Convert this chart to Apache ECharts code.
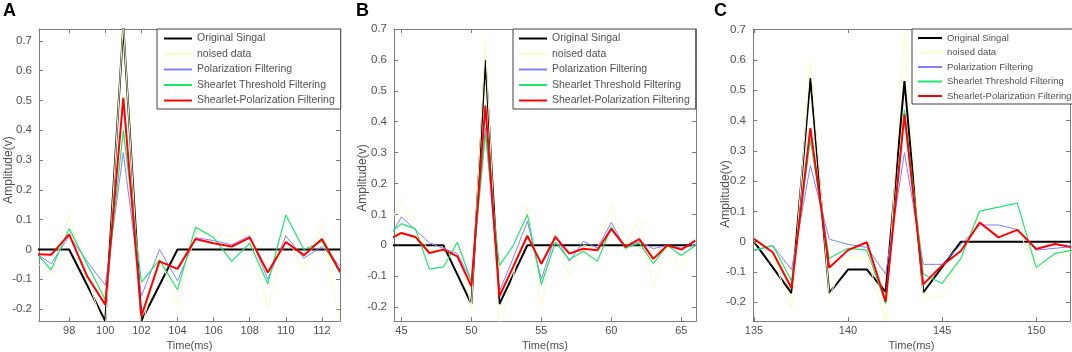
<!DOCTYPE html>
<html>
<head>
<meta charset="utf-8">
<script src="https://cdn.jsdelivr.net/npm/echarts@6/dist/echarts.min.js"></script>
<style>
html,body{margin:0;padding:0;background:#fff;}
#main{width:1072px;height:352px;}
</style>
</head>
<body>
<div id="main"></div>
<script>
// series names (legend text kept as in the figure)
var names = ['Original Singal', 'noised data', 'Polarization Filtering', 'Shearlet Threshold Filtering', 'Shearlet-Polarization Filtering'];

// panel A
var timeA  = [96, 97, 98, 99, 100, 101, 102, 103, 104, 105, 106, 107, 108, 109, 110, 111, 112, 113];
var origA  = [0, 0, 0, -0.12, -0.24, 0.75, -0.24, -0.12, 0, 0, 0, 0, 0, 0, 0, 0, 0, 0];
var noiseA = [-0.03, -0.09, 0.12, -0.1, -0.27, 0.76, -0.27, -0.02, -0.19, 0.06, 0.05, 0.04, 0.07, -0.2, 0.05, -0.07, 0.09, -0.26];
var polA   = [-0.006, -0.048, 0.045, -0.04, -0.12, 0.325, -0.157, 0, -0.105, 0.04, 0.03, 0.016, 0.046, -0.1, 0.046, -0.029, 0.01, -0.055];
var shearA = [0, -0.068, 0.07, -0.05, -0.168, 0.40, -0.11, -0.035, -0.135, 0.075, 0.04, -0.04, 0.021, -0.115, 0.116, 0, 0.027, -0.08];
var spfA   = [-0.015, -0.018, 0.051, -0.09, -0.185, 0.509, -0.224, -0.04, -0.065, 0.035, 0.021, 0.01, 0.04, -0.077, 0.025, -0.019, 0.035, -0.074];
var xTicksA = [98, 100, 102, 104, 106, 108, 110, 112];
var yTicksA = [-0.2, -0.1, 0, 0.1, 0.2, 0.3, 0.4, 0.5, 0.6, 0.7];

// panel B
var timeB  = [44, 45, 46, 47, 48, 49, 50, 51, 52, 53, 54, 55, 56, 57, 58, 59, 60, 61, 62, 63, 64, 65, 66];
var origB  = [0, 0, 0, 0, 0, -0.095, -0.19, 0.6, -0.19, -0.095, 0, 0, 0, 0, 0, 0, 0, 0, 0, 0, 0, 0, 0];
var noiseB = [0.05, 0.15, 0.05, -0.02, -0.01, 0.0, -0.2, 0.66, -0.27, -0.1, 0.13, -0.2, 0.05, -0.1, 0.0, -0.01, 0.13, -0.01, 0.09, -0.14, 0.0, -0.08, 0.02];
var polB   = [0.013, 0.092, 0.05, 0.008, -0.01, -0.027, -0.117, 0.38, -0.149, -0.04, 0.078, -0.11, 0.031, -0.052, 0.013, -0.009, 0.074, -0.009, 0.013, -0.011, 0, -0.009, 0];
var shearB = [0.032, 0.07, 0.053, -0.077, -0.07, 0.01, -0.117, 0.36, -0.066, 0.0, 0.1, -0.127, 0.01, -0.046, -0.019, -0.052, 0.059, -0.009, 0.008, -0.059, 0, -0.033, -0.001];
var spfB   = [0.016, 0.04, 0.027, -0.025, -0.014, -0.036, -0.133, 0.452, -0.165, -0.068, 0.031, -0.06, 0.027, -0.027, -0.011, -0.016, 0.053, -0.005, 0.02, -0.044, 0, -0.014, 0.015];
var xTicksB = [45, 50, 55, 60, 65];
var yTicksB = [-0.2, -0.1, 0, 0.1, 0.2, 0.3, 0.4, 0.5, 0.6, 0.7];

// panel C
var timeC  = [135, 136, 137, 138, 139, 140, 141, 142, 143, 144, 145, 146, 147, 148, 149, 150, 151, 152];
var origC  = [0, -0.085, -0.17, 0.54, -0.17, -0.092, -0.092, -0.166, 0.53, -0.168, -0.084, 0, 0, 0, 0, 0, 0, 0];
var noiseC = [0.0, -0.05, -0.22, 0.6, -0.18, -0.05, -0.05, -0.26, 0.69, -0.19, -0.18, -0.05, 0.08, 0.05, 0.05, -0.1, -0.05, -0.03];
var polC   = [-0.03, -0.013, -0.092, 0.251, 0.008, -0.009, -0.019, -0.107, 0.294, -0.075, -0.075, -0.01, 0.055, 0.055, 0.04, -0.028, -0.022, -0.016];
var shearC = [-0.028, -0.013, -0.13, 0.336, -0.055, -0.022, -0.028, -0.204, 0.435, -0.107, -0.138, -0.055, 0.101, 0.114, 0.127, -0.085, -0.039, -0.028];
var spfC   = [0.009, -0.035, -0.154, 0.375, -0.086, -0.028, -0.002, -0.198, 0.419, -0.141, -0.079, -0.031, 0.063, 0.014, 0.039, -0.024, -0.008, -0.019];
var xTicksC = [135, 140, 145, 150];
var yTicksC = [-0.2, -0.1, 0, 0.1, 0.2, 0.3, 0.4, 0.5, 0.6, 0.7];

// styles
var colors = ['#000000', '#fcfcc4', '#8080ff', '#1fe56f', '#ff0000'];
var widths = [2, 1, 1, 1.2, 2];
var axisColor = '#7a7a7a';
var textColor = '#505050';

var panels = [
	{letter: 'A', time: timeA, vals: [origA, noiseA, polA, shearA, spfA], xt: xTicksA, yt: yTicksA,
	 xmin: 96.33, xmax: 113, ymin: -0.24, ymax: 0.74,
	 grid: {left: 39, top: 29, width: 301, height: 292},
	 legend: {left: 157, size: 10.5, iw: 28, pad: [4, 6, 3, 6]}, yname: [9, 170], lx: 3},
	{letter: 'B', time: timeB, vals: [origB, noiseB, polB, shearB, spfB], xt: xTicksB, yt: yTicksB,
	 xmin: 44.47, xmax: 66.05, ymin: -0.245, ymax: 0.7,
	 grid: {left: 394, top: 29, width: 302, height: 292},
	 legend: {left: 513, size: 10.5, iw: 28, pad: [4, 6, 3, 5]}, yname: [363, 178], lx: 356},
	{letter: 'C', time: timeC, vals: [origC, noiseC, polC, shearC, spfC], xt: xTicksC, yt: yTicksC,
	 xmin: 134.95, xmax: 151.8, ymin: -0.262, ymax: 0.702,
	 grid: {left: 753, top: 29, width: 317, height: 292},
	 legend: {left: 912, size: 9.5, iw: 24, pad: [4, 3, 3, 5]}, yname: [726, 194], lx: 714}
];

function fmtY(v){
	if (Math.abs(v) < 1e-9) return '0';
	return v.toFixed(1);
}

var option = {
	animation: false,
	backgroundColor: '#fff',
	grid: [], xAxis: [], yAxis: [], series: [], legend: [], graphic: []
};

for (var p = 0; p < panels.length; p++) {
	var pn = panels[p];
	var g = pn.grid;
	// outerBoundsMode none: keep the grid exactly where it is put
	option.grid.push({left: g.left, top: g.top, width: g.width, height: g.height, containLabel: false, outerBoundsMode: 'none'});
	var line = {show: true, onZero: false, lineStyle: {color: axisColor, width: 1}};
	// bottom / top x axes
	option.xAxis.push({
		type: 'value', gridIndex: p, position: 'bottom', min: pn.xmin, max: pn.xmax,
		name: 'Time(ms)', nameLocation: 'middle', nameGap: 17,
		nameTextStyle: {color: textColor, fontSize: 11, fontFamily: 'Liberation Sans'},
		axisLine: line, splitLine: {show: false},
		axisTick: {inside: true, length: 4, customValues: pn.xt, lineStyle: {color: axisColor}},
		axisLabel: {customValues: pn.xt, margin: 4, color: textColor, fontSize: 11, fontFamily: 'Liberation Sans'}
	});
	option.xAxis.push({
		type: 'value', gridIndex: p, position: 'top', min: pn.xmin, max: pn.xmax,
		axisLine: line, splitLine: {show: false},
		axisTick: {inside: true, length: 4, customValues: pn.xt, lineStyle: {color: axisColor}},
		axisLabel: {show: false}
	});
	// left / right y axes
	option.yAxis.push({
		type: 'value', gridIndex: p, position: 'left', min: pn.ymin, max: pn.ymax,
		axisLine: line, splitLine: {show: false},
		axisTick: {inside: true, length: 4, customValues: pn.yt, lineStyle: {color: axisColor}},
		axisLabel: {customValues: pn.yt, margin: 7, color: textColor, fontSize: 11.5, fontFamily: 'Liberation Sans', formatter: fmtY}
	});
	option.yAxis.push({
		type: 'value', gridIndex: p, position: 'right', min: pn.ymin, max: pn.ymax,
		axisLine: line, splitLine: {show: false},
		axisTick: {inside: true, length: 4, customValues: pn.yt, lineStyle: {color: axisColor}},
		axisLabel: {show: false}
	});

	for (var s = 0; s < names.length; s++) {
		var d = [];
		for (var i = 0; i < pn.time.length; i++) d.push([pn.time[i], pn.vals[s][i]]);
		option.series.push({
			name: names[s], type: 'line', xAxisIndex: p * 2, yAxisIndex: p * 2,
			data: d, symbol: 'none', showSymbol: false, clip: true, z: 2 + s,
			lineStyle: {color: colors[s], width: widths[s]},
			itemStyle: {color: colors[s]}
		});
	}

	option.legend.push({
		orient: 'vertical', left: pn.legend.left, top: 29,
		data: names, itemWidth: pn.legend.iw, itemHeight: 10, itemGap: 4.5,
		padding: pn.legend.pad, borderColor: '#404040', borderWidth: 1, borderRadius: 0,
		backgroundColor: '#fff', selectedMode: false,
		itemStyle: {opacity: 0},
		textStyle: {color: textColor, fontSize: pn.legend.size, fontFamily: 'Liberation Sans'}
	});

	option.graphic.push({
		type: 'text', left: pn.lx, top: 2,
		style: {text: pn.letter, fill: '#000', font: 'bold 18px "Liberation Sans", Arial, sans-serif'}
	});
	option.graphic.push({
		type: 'text', x: pn.yname[0], y: pn.yname[1], rotation: Math.PI / 2,
		style: {text: 'Amplitude(v)', fill: textColor, font: '12px "Liberation Sans", Arial, sans-serif',
			align: 'center', verticalAlign: 'middle'}
	});
}

var myChart = echarts.init(document.getElementById('main'), null, {renderer: 'canvas'});
myChart.setOption(option);
</script>
</body>
</html>
